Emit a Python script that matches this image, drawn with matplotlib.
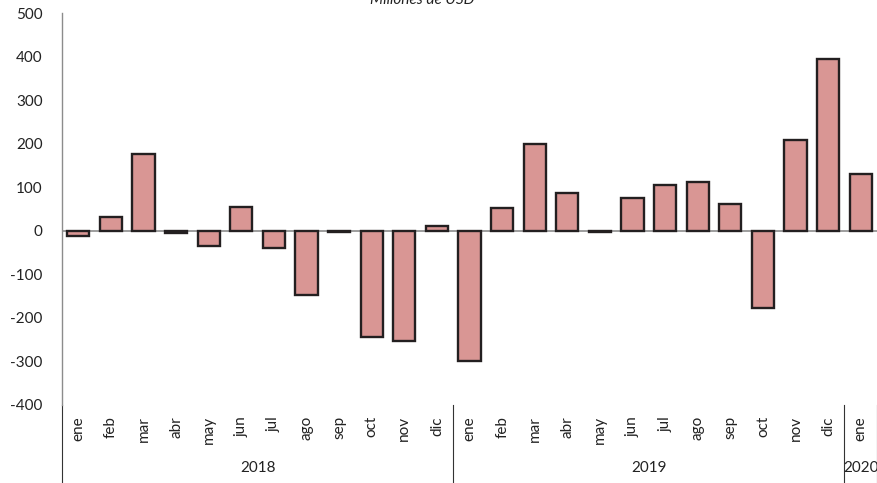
import numpy as np
import matplotlib
matplotlib.use("Agg")
import matplotlib.pyplot as plt
import matplotlib.transforms as mtransforms

plt.rcParams["font.family"] = ["Lato", "DejaVu Sans"]
plt.rcParams["axes.unicode_minus"] = False

# Monthly values, millions of USD
MONTHS = ["ene", "feb", "mar", "abr", "may", "jun", "jul", "ago", "sep", "oct", "nov", "dic"]
VALS_2018 = [-12, 32, 176, -5, -34, 54, -40, -148, -3, -245, -254, 10]
VALS_2019 = [-298, 53, 200, 86, -3, 75, 106, 111, 62, -178, 208, 395]
VALS_2020 = [130]
YEARS = ["2018", "2019", "2020"]

BAR_CLR = "#D99694"
EDGE_CLR = "#231F20"
AXIS_CLR = "#8C8C8C"

labels = MONTHS + MONTHS + MONTHS[:1]
vals = VALS_2018 + VALS_2019 + VALS_2020
x = np.arange(len(vals))

fig = plt.figure(figsize=(8.77, 4.83), dpi=100)
ax = fig.add_axes([0.0707, 0.1615, 0.9293, 0.8115])

ax.bar(x, vals, width=0.68, color=BAR_CLR, edgecolor=EDGE_CLR, linewidth=1.7, zorder=3)
ax.axhline(0, color=AXIS_CLR, linewidth=1.2, zorder=2)

ax.set_xlim(-0.5, len(vals) - 0.5)
ax.set_ylim(-400, 500)
ax.set_yticks(np.arange(-400, 501, 100))
ax.tick_params(axis="y", length=0, pad=14, labelsize=11, labelcolor="#222222")

ax.set_xticks(x)
ax.set_xticklabels(labels, rotation=90, fontsize=11, color="#222222")
ax.tick_params(axis="x", length=0, pad=8)

for s in ["top", "right", "bottom"]:
    ax.spines[s].set_visible(False)
ax.spines["left"].set_color(AXIS_CLR)
ax.spines["left"].set_linewidth(1.0)

# Group separators and year labels below the axis
trans = mtransforms.blended_transform_factory(ax.transData, ax.transAxes)
for xs in [-0.5, 11.5, 23.5, 24.5]:
    ax.plot([xs, xs], [0, -0.21], color="#333333", linewidth=0.8,
            transform=trans, clip_on=False)
year_pos = [5.5, 17.5, 24.0]
for xp, yr in zip(year_pos, YEARS):
    ax.text(xp, -0.161, yr, transform=trans, ha="center", va="center",
            fontsize=11, color="#222222")

fig.text(0.481, 1.0, "Millones de USD", ha="center", va="center",
         fontsize=11, style="italic", color="#222222")

fig.savefig("out.png", dpi=100)
